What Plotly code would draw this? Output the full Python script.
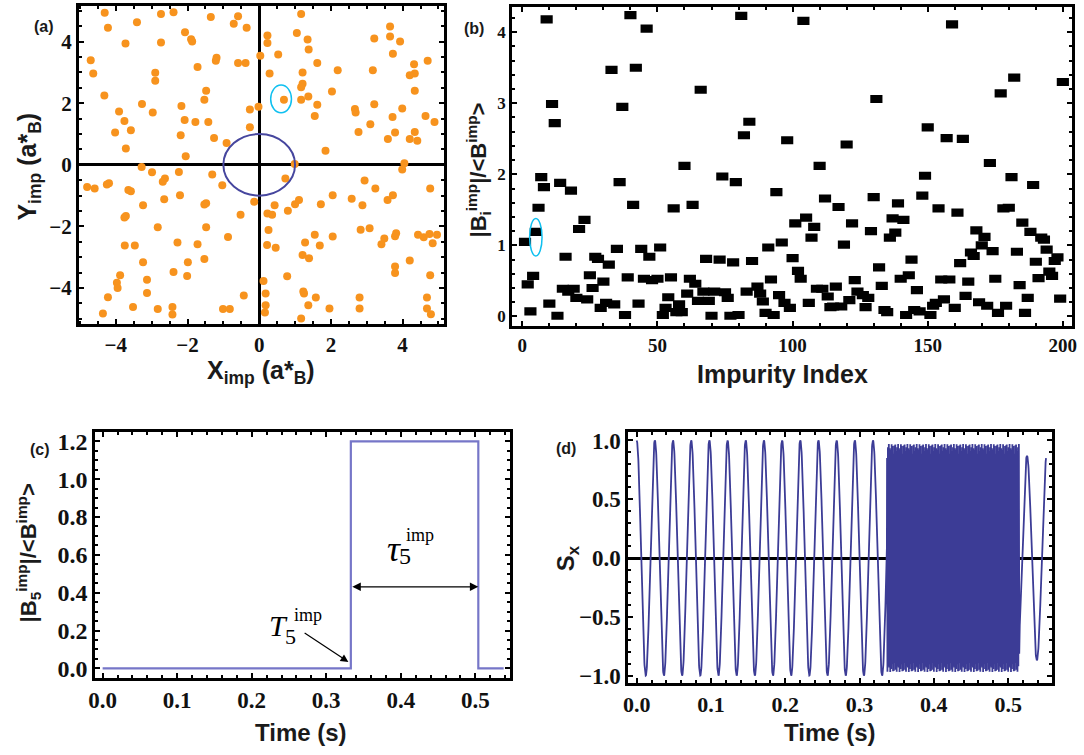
import numpy as np
import plotly.graph_objects as go

W, H = 1084, 755

# ---------------- (a) impurity positions (units of a*_B) ----------------
imp_x = [
    -4.31, -4.22, -2.74, -2.39, -1.35, -0.59, -0.71, -3.41, -2.07, -1.90, -1.87, -3.73, -2.74,
    -4.70, -4.63, -2.90, -2.90, -1.72, -1.19, -1.21, -0.59, -4.32, -3.27, -1.48, -1.53, -2.17,
    -3.91, -2.97, -3.76, -3.58, -4.02, -2.08, -1.78, -1.42, -2.19, -1.26, -0.91, -3.72, -2.05,
    -3.28, -2.99, -2.24, -2.63, -2.69, -1.31,
    -0.35, 1.17, 0.23, 0.23, 1.05, 1.35, 1.38, 0.03, 0.53, 1.62, -0.38, 0.29, 1.21, 2.19, 3.17,
    3.21, 3.65, 3.65, 3.93, 3.73, 4.70, 4.32, 4.34, 4.20, 1.21, 1.17, 2.03, 1.37, 1.17, 0.69,
    1.62, 1.55, -0.02, -0.26, -0.26, 3.21, 4.34, 2.67, 2.69, 3.10, 3.72, 3.99, 4.64, 4.89, 2.77,
    3.79, 4.34, 3.59, 4.20, 4.41, 1.85, 0.99, 3.99, 4.05, 0.73, 2.94,
    -4.80, -4.59, -4.19, -4.25, -3.65, -3.58, -1.03, -2.65, -2.21, -3.24, -1.48, -1.53, -3.72,
    -3.76, -2.83, -1.48, -0.87, -3.75, -3.47, -2.28, -1.72, -3.24, -1.99, -1.53, -2.39, -2.01,
    -3.88, -3.13, -3.97, -3.95, -3.13, -4.22, -3.52, -2.83, -2.42, -2.42, -4.36, -1.01, -0.82,
    3.24, 4.77, -0.14, -0.52, 0.23, 0.36, 0.43, 0.80, 1.00, 1.11, 1.72, 2.05, 2.58, 2.88, 3.58,
    3.73, 0.26, 0.22, 0.46, 1.28, 1.55, 1.69, 2.05, 2.83, 3.08, 3.49, 3.41, 3.79, 3.82, 4.43,
    4.59, 4.75, 4.96, 4.84, 1.21, 1.39, 4.20, 3.79, 3.79, 4.77, 0.78, 0.12, -0.43, 0.18, 1.23,
    1.25, 1.58, 1.37, 0.18, 0.16, 1.17, 1.96, 2.80, 2.80, 4.68, 4.68, 4.79,
]
imp_y = [
    4.94, 4.45, 4.90, 4.96, 4.80, 4.83, 4.58, 4.63, 4.31, 4.08, 4.01, 3.94, 3.97,
    3.40, 2.97, 2.99, 2.73, 3.18, 3.48, 3.38, 3.31, 2.25, 1.98, 2.41, 2.11, 1.91,
    1.73, 1.70, 1.42, 1.12, 1.05, 1.46, 1.39, 1.39, 0.96, 0.87, 0.71, 0.53, 0.28,
    -0.07, -0.24, -0.23, -0.44, -0.55, -0.31,
    4.45, 4.90, 4.20, 3.96, 4.28, 4.07, 3.75, 3.54, 3.58, 3.31, 3.31, 2.97, 3.00, 3.07, 3.07,
    4.10, 4.49, 4.17, 4.01, 3.61, 3.38, 3.27, 2.97, 2.91, 2.63, 2.52, 2.38, 2.22, 2.11, 2.11,
    1.95, 1.59, 1.89, 1.80, 1.22, 1.97, 2.41, 1.81, 1.70, 1.32, 1.55, 1.83, 1.59, 1.39, 1.07,
    1.05, 1.07, 0.84, 0.84, 0.78, 0.46, 0.03, -0.15, 0.05, -0.44, -0.51,
    -0.72, -0.77, -0.60, -0.64, -0.82, -0.86, -0.66, -1.12, -0.99, -1.31, -1.25, -1.29, -1.66,
    -1.71, -2.03, -2.03, -2.34, -2.62, -2.62, -2.52, -2.58, -3.16, -3.16, -3.06, -3.48, -3.61,
    -3.59, -3.73, -3.83, -4.00, -4.16, -4.30, -4.62, -4.68, -4.62, -4.86, -4.83, -4.68, -4.68,
    -0.77, -0.77, -1.20, -1.62, -1.58, -1.62, -1.31, -1.49, -1.28, -1.14, -1.28, -0.99, -1.10,
    -1.31, -1.14, -0.99, -2.12, -2.60, -2.69, -2.52, -2.27, -2.62, -2.33, -2.11, -2.06, -2.39,
    -2.58, -2.32, -2.22, -2.27, -2.35, -2.25, -2.27, -2.55, -2.93, -3.03, -3.11, -3.30, -3.51,
    -3.59, -3.62, -3.77, -4.24, -4.18, -4.11, -4.18, -4.31, -4.56, -4.56, -4.80, -4.99, -4.67,
    -4.31, -4.67, -4.31, -4.67, -4.85,
]

# ---------------- (b) normalised field of each impurity ----------------
imp_index = [
    9, 40, 46, 81, 33, 42, 66, 11, 37, 12, 84, 82, 7, 8, 14, 18, 36, 60, 74, 79,
    104, 159, 182, 200, 177, 131, 150, 157, 163, 98, 120, 110, 173, 149, 181, 189,
    6, 23, 21, 5, 1, 41, 56, 63, 94, 16, 27, 28, 32, 35, 44, 47, 51, 68, 73, 78, 85, 91,
    4, 2, 25, 26, 30, 39, 45, 48, 50, 55, 62, 64, 67, 69, 71, 75, 76, 83, 87, 88, 89, 90,
    15, 19, 17, 20, 24, 29, 31, 34, 38, 43, 13, 10, 3, 54, 53, 52, 58, 57, 59, 61, 65, 70, 77, 80,
    112, 117, 130, 139, 148, 154, 161, 178, 180, 101, 105, 108, 107, 96, 122, 119, 129, 137,
    141, 138, 136, 168, 171, 170, 166, 167, 174, 183, 185, 188, 192, 193, 194, 190, 197, 198,
    195, 196, 191, 199, 184, 187, 186, 179, 176, 175, 172, 169, 164, 165, 162, 158, 155, 160,
    156, 153, 152, 151, 146, 144, 143, 140, 147, 145, 142, 133, 132, 134, 135, 123, 124, 126,
    128, 127, 121, 116, 113, 111, 109, 114, 115, 118, 106, 103, 102, 100, 99, 97, 95, 92, 93,
]
b_ratio = [
    4.18, 4.24, 4.05, 4.23, 3.47, 3.50, 3.19, 2.99, 2.95, 2.72, 2.74, 2.55, 1.96, 1.82, 1.88, 1.77, 1.89, 2.12, 1.97, 1.89,
    4.16, 4.11, 3.36, 3.30, 3.14, 3.06, 2.66, 2.51, 2.50, 2.48, 2.42, 2.12, 2.16, 1.98, 1.96, 1.85,
    1.53, 1.36, 1.23, 1.19, 1.05, 1.57, 1.52, 1.57, 1.75, 0.84, 0.84, 0.81, 0.73, 0.95, 0.95, 0.84, 0.97, 0.81, 0.80, 0.76, 0.78, 0.97,
    0.57, 0.45, 0.58, 0.40, 0.49, 0.55, 0.53, 0.51, 0.53, 0.55, 0.53, 0.46, 0.35, 0.22, 0.35, 0.34, 0.26, 0.35, 0.42, 0.32, 0.21, 0.05,
    0.39, 0.39, 0.35, 0.26, 0.24, 0.12, 0.19, 0.17, 0.02, 0.18, 0.01, 0.18, 0.07, 0.27, 0.12, 0.02, 0.17, 0.06, 0.06, 0.32, 0.22, 0.01, 0.01, 0.02,
    1.66, 1.54, 1.68, 1.59, 1.70, 1.52, 1.46, 1.52, 1.53, 1.31, 1.39, 1.26, 1.11, 1.04, 1.31, 1.01, 1.20, 1.38,
    1.36, 1.18, 1.11, 1.21, 1.12, 1.00, 0.90, 0.85, 0.92, 0.91, 1.32, 1.19, 1.11, 1.08, 0.94, 0.77, 0.78, 0.83,
    0.63, 0.57, 0.54, 0.25, 0.44, 0.26, 0.05, 0.15, 0.05, 0.53, 0.15, 0.20, 0.29, 0.49, 0.75, 0.52, 0.52, 0.12,
    0.24, 0.19, 0.15, 0.02, 0.37, 0.80, 0.58, 0.53, 0.07, 0.09, 0.02, 0.43, 0.69, 0.09, 0.06, 0.51, 0.35, 0.30,
    0.26, 0.13, 0.23, 0.42, 0.28, 0.39, 0.39, 0.13, 0.14, 0.14, 0.19, 0.53, 0.64, 0.82, 0.12, 0.19, 0.30, 0.52, 0.02,
]
highlight_index, highlight_ratio = 5, 1.19

# ---------------- (c) field felt from impurity 5 ----------------
b5_time = [0.0, 0.333, 0.504, 0.538]
b5_level = [0.0, 1.2, 0.0, 0.0]

# ---------------- (d) S_x precession parameters ----------------
sx_free_hz = 40.87          # precession before the impurity switches on
sx_pulse_start, sx_pulse_end = 0.337, 0.515
sx_pulse_hz = 800.0         # fast precession while impurity 5 is on
sx_pulse_amp = 0.97
sx_after_hz = 37.6
sx_after_peak = 0.5253
sx_after_amp = 0.87
sx_end = 0.551

t_free = np.arange(0.0, sx_pulse_start, 0.0002)
s_free = np.cos(2 * np.pi * sx_free_hz * t_free)
t_pulse = np.arange(sx_pulse_start, sx_pulse_end, 1.0 / (sx_pulse_hz * 7.3))
s_pulse = sx_pulse_amp * np.cos(2 * np.pi * sx_pulse_hz * (t_pulse - sx_pulse_start) + 0.5)
t_after = np.arange(sx_pulse_end, sx_end, 0.0002)
s_after = sx_after_amp * np.cos(2 * np.pi * sx_after_hz * (t_after - sx_after_peak))
sx_time = np.concatenate([t_free, t_pulse, t_after])
sx_value = np.concatenate([s_free, s_pulse, s_after])


def dom(x0, x1, y0, y1):
    return [x0 / W, x1 / W], [1 - y1 / H, 1 - y0 / H]


def px(x, y):
    return x / W, 1 - y / H


TICK_FONT = "Liberation Serif"
TITLE_FONT = "Liberation Sans"


def frame_axis(dom_range, rng, tickvals, ticktext, minor_dtick, size, **extra):
    ax = dict(
        domain=dom_range, range=rng, showline=True, linewidth=3, linecolor="black",
        mirror="allticks", ticks="inside", ticklen=5, tickwidth=2, tickcolor="black",
        showgrid=False, zeroline=False, tickvals=tickvals,
        ticktext=[f"<b>{t}</b>" for t in ticktext],
        tickfont=dict(family=TICK_FONT, size=size, color="#111111", weight=700),
        minor=dict(ticks="inside", ticklen=3, tickwidth=1.5, tickcolor="black", dtick=minor_dtick,
                   showgrid=False),
        fixedrange=True,
    )
    ax.update(extra)
    return ax


fig = go.Figure()

# (a) scatter of impurity positions
fig.add_trace(go.Scatter(
    x=imp_x, y=imp_y, mode="markers", xaxis="x", yaxis="y",
    marker=dict(color="#F7931E", size=8, line=dict(width=0)), showlegend=False,
))

# (b) each impurity drawn as a small black rectangle
bar_h = 0.115
fig.add_trace(go.Bar(
    x=imp_index, y=[bar_h] * len(b_ratio), base=[v - bar_h / 2 for v in b_ratio],
    width=4.5, xaxis="x2", yaxis="y2", marker=dict(color="black", line=dict(width=0)),
    showlegend=False,
))

# (c) step in |B5|
fig.add_trace(go.Scatter(
    x=b5_time, y=b5_level, mode="lines", line=dict(color="#7676C8", width=2.2, shape="hv"),
    xaxis="x3", yaxis="y3", showlegend=False,
))

# (d) S_x
fig.add_trace(go.Scatter(
    x=sx_time, y=sx_value, mode="lines", line=dict(color="#3C3C96", width=1.8),
    xaxis="x4", yaxis="y4", showlegend=False,
))

da_x, da_y = dom(72.7, 441.7, 2, 324)
db_x, db_y = dom(510.7, 1076.7, 2.7, 326.7)
dc_x, dc_y = dom(89.3, 509, 434, 682.7)
dd_x, dd_y = dom(628.3, 1056.7, 434, 687.7)

tx5 = ["0.0", "0.1", "0.2", "0.3", "0.4", "0.5"]
fig.update_layout(
    width=W, height=H, margin=dict(l=0, r=0, t=0, b=0),
    paper_bgcolor="white", plot_bgcolor="white", showlegend=False,
    font=dict(family=TICK_FONT, color="#111111"),
    xaxis=frame_axis(da_x, [-5.03, 5.15], [-4, -2, 0, 2, 4], ["−4", "−2", "0", "2", "4"], 0.5, 21,
                     anchor="y", zeroline=True, zerolinecolor="black", zerolinewidth=3),
    yaxis=frame_axis(da_y, [-5.16, 5.16], [-4, -2, 0, 2, 4], ["−4", "−2", "0", "2", "4"], 0.5, 21,
                     anchor="x", zeroline=True, zerolinecolor="black", zerolinewidth=3),
    xaxis2=frame_axis(db_x, [-3.8, 203.3], [0, 50, 100, 150, 200], ["0", "50", "100", "150", "200"],
                      10, 19, anchor="y2"),
    yaxis2=frame_axis(db_y, [-0.14, 4.36], [0, 1, 2, 3, 4], ["0", "1", "2", "3", "4"], 0.2, 17,
                      anchor="x2"),
    xaxis3=frame_axis(dc_x, [-0.0098, 0.547], [0, 0.1, 0.2, 0.3, 0.4, 0.5], tx5, 0.02, 23,
                      anchor="y3"),
    yaxis3=frame_axis(dc_y, [-0.049, 1.248], [0, 0.2, 0.4, 0.6, 0.8, 1.0, 1.2],
                      ["0.0", "0.2", "0.4", "0.6", "0.8", "1.0", "1.2"], 0.05, 24, anchor="x3"),
    xaxis4=frame_axis(dd_x, [-0.0112, 0.559], [0, 0.1, 0.2, 0.3, 0.4, 0.5], tx5, 0.02, 22,
                      anchor="y4"),
    yaxis4=frame_axis(dd_y, [-1.06, 1.07], [-1, -0.5, 0, 0.5, 1],
                      ["−1.0", "−0.5", "0.0", "0.5", "1.0"], 0.1, 23, anchor="x4",
                      zeroline=True, zerolinecolor="black", zerolinewidth=3),
)

shapes = [
    dict(type="circle", xref="x", yref="y", x0=-1, x1=1, y0=-1, y1=1,
         line=dict(color="#46469E", width=2)),
    dict(type="circle", xref="x", yref="y", x0=0.32, x1=0.90, y0=1.69, y1=2.59,
         line=dict(color="#10C0F0", width=1.5)),
    dict(type="circle", xref="x2", yref="y2",
         x0=highlight_index - 2.3, x1=highlight_index + 2.3,
         y0=highlight_ratio - 0.34, y1=highlight_ratio + 0.19,
         line=dict(color="#10C0F0", width=1.5)),
]
fig.update_layout(shapes=shapes)

ann = []


def text_at(x, y, text, size, family=TITLE_FONT, angle=0, weight="bold", color="#1a1a1a"):
    px_x, px_y = px(x, y)
    ann.append(dict(x=px_x, y=px_y, xref="paper", yref="paper", text=text, showarrow=False,
                    textangle=angle, xanchor="center", yanchor="middle",
                    font=dict(family=family, size=size, color=color, weight=weight)))


# panel letters
text_at(37, 23, "(a)", 16)
text_at(472, 25, "(b)", 16)
text_at(33, 451, "(c)", 16)
text_at(565, 450, "(d)", 16)

# axis titles
text_at(22, 165, "Y<sub>imp</sub> (a*<sub>B</sub>)", 25, angle=-90)
text_at(257, 373, "X<sub>imp</sub> (a*<sub>B</sub>)", 25)
text_at(477, 168, "|B<sub>i</sub><sup>imp</sup>|/&lt;B<sup>imp</sup>&gt;", 22, angle=-90)
text_at(784, 375, "Impurity Index", 25)
text_at(22, 556, "|B<sub>5</sub><sup>imp</sup>|/&lt;B<sup>imp</sup>&gt;", 22, angle=-90)
text_at(297, 738, "Time (s)", 24)
text_at(567, 562, "S<sub>x</sub>", 24, angle=-90)
text_at(832, 738, "Time (s)", 24)


def data_text(x, y, text, size, italic=False):
    ann.append(dict(x=x, y=y, xref="x3", yref="y3", text=f"<i>{text}</i>" if italic else text,
                    showarrow=False, xanchor="center", yanchor="middle",
                    font=dict(family=TICK_FONT, size=size, color="black")))


# tau label and its double arrow
data_text(0.3907, 0.631, "τ", 36, italic=True)
data_text(0.406, 0.595, "5", 24)
data_text(0.4259, 0.706, "imp", 18)
ann.append(dict(x=b5_time[2], y=0.431, ax=b5_time[1], ay=0.431, xref="x3", yref="y3",
                axref="x3", ayref="y3", text="", showarrow=True, arrowhead=2, arrowsize=1.3,
                arrowwidth=1.3, arrowside="end+start", startarrowhead=2, startarrowsize=1.3,
                arrowcolor="black", standoff=0, startstandoff=0))

# T label with pointer to the switch-on time
data_text(0.2354, 0.225, "T", 30, italic=True)
data_text(0.2515, 0.168, "5", 22)
data_text(0.2755, 0.283, "imp", 18)
ann.append(dict(x=0.3297, y=0.034, ax=0.269, ay=0.192, xref="x3", yref="y3",
                axref="x3", ayref="y3", text="", showarrow=True, arrowhead=2, arrowsize=1.3,
                arrowwidth=1.2, arrowcolor="black", standoff=0))

fig.update_layout(annotations=ann)

fig.write_html("out.html")
